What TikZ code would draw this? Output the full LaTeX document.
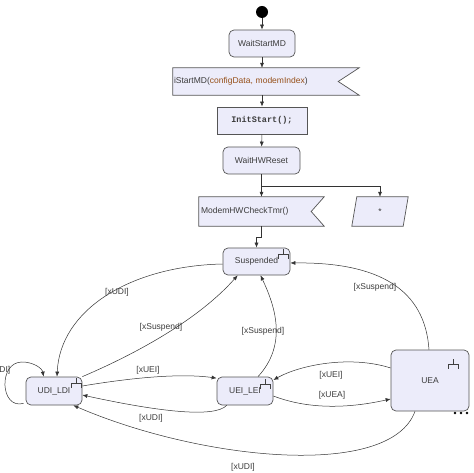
\documentclass[tikz,border=0pt]{standalone}
\usepackage{fontspec}
\setmainfont{Liberation Sans}
\setmonofont{Liberation Mono}
\usetikzlibrary{arrows.meta,calc}
\definecolor{lav}{RGB}{236,236,250}
\definecolor{bord}{RGB}{85,85,85}
\definecolor{txt}{RGB}{60,60,60}
\definecolor{argc}{RGB}{150,80,25}
\pgfdeclarelayer{bg}\pgfsetlayers{bg,main}
\begin{document}
\begin{tikzpicture}[x=1pt,y=-1pt,font=\fontsize{8.5}{10}\selectfont,
  st/.style={draw=bord,fill=lav,rounded corners=5pt,text=txt,line width=0.7pt,inner sep=0pt},
  plainbox/.style={text=txt,inner sep=0pt},
  shapeline/.style={draw=bord,fill=lav,line width=0.7pt},
  tr/.style={draw=black!80,line width=0.5pt,-{Latex[length=5pt,width=4pt]}},
  lab/.style={text=txt,inner sep=0pt},
  forkic/.pic={\draw[black!75,line width=0.5pt] (0,0)--(0,5) (-5,5)--(5,5) (-5,5)--(-5,10) (5,5)--(5,10);}]
\useasboundingbox (0,0) rectangle (474,473);

% flow part
\node[circle,fill=black,minimum size=12pt,inner sep=0pt] (dot) at (262,12) {};
\node[st,minimum width=66pt,minimum height=27pt] (wsm) at (262,43.5) {WaitStartMD};
\node[plainbox,minimum height=27pt,text width=184pt,align=left,inner xsep=1pt] (isig) at (266,81.5) {iStartMD(\textcolor{argc}{configData, modemIndex})};
\node[draw=bord,fill=lav,line width=0.7pt,minimum width=90pt,minimum height=27pt,text=txt,inner sep=0pt,font=\ttfamily\bfseries\fontsize{8.5}{10}\selectfont] (init) at (262,120.5) {InitStart();};
\node[st,minimum width=77pt,minimum height=27pt] (whw) at (261.5,160.5) {WaitHWReset};
\node[plainbox,minimum height=29pt,text width=121pt,align=left,inner xsep=2pt] (mhw) at (261.5,211.5) {ModemHWCheckTmr()};
\node[plainbox,minimum width=51pt,minimum height=29pt] (star) at (380,211.5) {*};
\begin{pgfonlayer}{bg}
  \path[shapeline] (isig.north west) -- (isig.north east) -- ($(isig.east)+(-21,0)$) -- (isig.south east) -- (isig.south west) -- cycle;
  \path[shapeline] (mhw.north west) -- (mhw.north east) -- ($(mhw.east)+(-13,0)$) -- (mhw.south east) -- (mhw.south west) -- cycle;
  \path[shapeline] ($(star.north west)+(2.5,0)$) -- ($(star.north east)+(2.5,0)$) -- ($(star.south east)+(-2.5,0)$) -- ($(star.south west)+(-2.5,0)$) -- cycle;
\end{pgfonlayer}

% states
\node[st,minimum width=67pt,minimum height=27pt] (susp) at (256.5,261.5) {Suspended};
\node[st,minimum width=56pt,minimum height=28pt] (udi) at (54,391) {UDI\_LDI};
\node[st,minimum width=56pt,minimum height=28pt] (uei) at (245,391) {UEI\_LEI};
\node[st,minimum width=78pt,minimum height=61pt] (uea) at (430,380.5) {UEA};
\pic at (283,249) {forkic};
\pic at (265,379) {forkic};
\pic at (76,378) {forkic};
\pic at (453,359) {forkic};
\fill[black] (455,413) circle (1.4) (461,413) circle (1.4) (467,413) circle (1.4);

% flow arrows
\draw[tr] (dot) -- (wsm);
\draw[tr] (wsm.south) -- (wsm.south |- isig.north);
\draw[tr] (wsm.south |- isig.south) -- (init.north);
\draw[tr] (init) -- (whw);
\coordinate (br) at (261.5,186);
\draw[tr] (whw.south) -- (whw.south |- mhw.north);
\draw[tr] (br) -| (star.north);
\draw[tr] (whw.south |- mhw.south) -- ++(0,11) -| (susp.north);

% transitions
\draw[tr] ($(susp.west)+(0,2.5)$) .. controls (130,266) and (60,310) .. ($(udi.north)+(3,0)$)
  node[lab] at (117,292) {[xUDI]};
\draw[tr] (udi.north east) .. controls (140,352) and (200,318) .. ($(susp.south west)+(15,0)$)
  node[lab] at (161,327) {[xSuspend]};
\draw[tr] ($(udi.south west)+(-2,-2)$) .. controls (0,410) and (-2,362) .. (22,362) .. controls (33,362) and (42,368) .. ($(udi.north west)+(18,0)$)
  node[lab] at (-1.5,370) {[xUDI]};
\draw[tr] ($(udi.east)+(0,-5)$) .. controls (130,378) and (180,373) .. ($(uei.north west)+(0,1.5)$)
  node[lab] at (148,370) {[xUEI]};
\draw[tr] ($(uei.south west)+(10,0)$) .. controls (215,418) and (160,412) .. ($(udi.east)+(0,4)$)
  node[lab] at (151,418) {[xUDI]};
\draw[tr] ($(uea.south)+(-15,0)$) .. controls (390,480) and (200,460) .. ($(udi.south east)+(-9,0)$)
  node[lab] at (243,467) {[xUDI]};
\draw[tr] ($(uei.north)+(13,0)$) .. controls (287,345) and (276,308) .. ($(susp.south)+(4,0)$)
  node[lab] at (263,331) {[xSuspend]};
\draw[tr] ($(uea.north)+(-1,0)$) .. controls (425,290) and (380,262) .. ($(susp.east)+(0,1.5)$)
  node[lab] at (375,287) {[xSuspend]};
\draw[tr] ($(uea.west)+(0,-12.5)$) .. controls (350,355) and (300,365) .. ($(uei.east)+(0,-11)$)
  node[lab] at (331,375) {[xUEI]};
\draw[tr] ($(uei.east)+(0,5)$) .. controls (310,410) and (350,408) .. ($(uea.west)+(0,18.5)$)
  node[lab] at (332,395) {[xUEA]};
\end{tikzpicture}
\end{document}
